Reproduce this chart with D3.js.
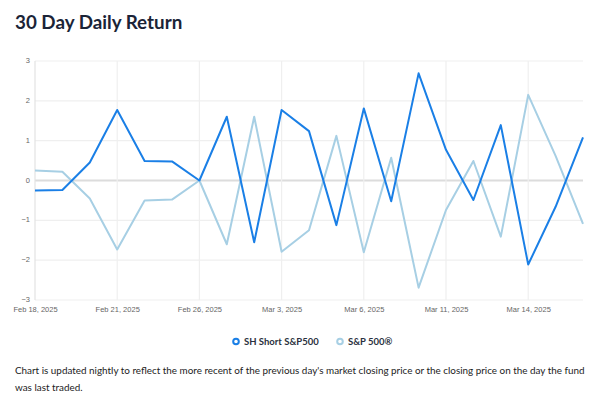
<!DOCTYPE html>
<html><head><meta charset="utf-8">
<script src="https://cdn.jsdelivr.net/npm/d3@7"></script>
<style>
body{margin:0;background:#fff;}
svg{display:block;}
</style></head>
<body>
<svg id="c" width="602" height="399"></svg>
<script>
const dates = ["Feb 18, 2025","Feb 19, 2025","Feb 20, 2025","Feb 21, 2025","Feb 24, 2025","Feb 25, 2025","Feb 26, 2025","Feb 27, 2025","Feb 28, 2025","Mar 3, 2025","Mar 4, 2025","Mar 5, 2025","Mar 6, 2025","Mar 7, 2025","Mar 10, 2025","Mar 11, 2025","Mar 12, 2025","Mar 13, 2025","Mar 14, 2025","Mar 17, 2025","Mar 18, 2025"];
const shShort = [-0.25,-0.24,0.45,1.77,0.49,0.48,0.0,1.60,-1.55,1.77,1.24,-1.12,1.81,-0.52,2.69,0.77,-0.49,1.39,-2.11,-0.66,1.08];
const sp500 = [0.25,0.22,-0.45,-1.73,-0.50,-0.48,0.0,-1.60,1.60,-1.79,-1.25,1.12,-1.80,0.57,-2.69,-0.74,0.49,-1.41,2.15,0.62,-1.09];
const yTicks = [-3,-2,-1,0,1,2,3];
const xTickLabels = ["Feb 18, 2025","Feb 21, 2025","Feb 26, 2025","Mar 3, 2025","Mar 6, 2025","Mar 11, 2025","Mar 14, 2025"];
const seriesNames = ["SH Short S&P500","S&P 500®"];
const colors = ["#1a7fe6","#a7cfe4"];

(function(){
const svg = d3.select("#c");
const pl = 35, pr = 583, pt = 61, pb = 300;
const x = d3.scalePoint().domain(dates).range([pl, pr]);
const y = d3.scaleLinear().domain([-3,3]).range([pb, pt]);

// title
svg.append("text").attr("x",15).attr("y",29).text("30 Day Daily Return")
  .attr("font-family","Lato, 'Open Sans', sans-serif").attr("font-weight","700")
  .attr("font-size",18.8).attr("fill","#1b2437");

// grid
const g = svg.append("g");
g.selectAll(".hg").data(yTicks).join("line")
  .attr("x1",pl).attr("x2",pr).attr("y1",d=>y(d)).attr("y2",d=>y(d))
  .attr("stroke",d=>d===0?"#dcdcdc":"#efefef").attr("stroke-width",d=>d===0?2:1.2);
g.selectAll(".vg").data(xTickLabels).join("line")
  .attr("x1",d=>x(d)).attr("x2",d=>x(d)).attr("y1",pt).attr("y2",pb)
  .attr("stroke",(d,i)=>i===0?"#e3e3e3":"#efefef").attr("stroke-width",1.2);

// y axis
const yAxis = d3.axisLeft(y).tickValues(yTicks).tickFormat(d3.format("d")).tickSize(0).tickPadding(5);
const ya = svg.append("g").attr("transform",`translate(${pl},0)`).call(yAxis);
ya.select(".domain").remove();
ya.selectAll("text").attr("font-family","Arial, 'Liberation Sans', sans-serif").attr("font-size",7.5).attr("fill","#666").attr("dy","0.2em");

// x axis
const xAxis = d3.axisBottom(x).tickValues(xTickLabels).tickSize(0).tickPadding(7);
const xa = svg.append("g").attr("transform",`translate(0,${pb})`).call(xAxis);
xa.select(".domain").remove();
xa.selectAll("text").attr("font-family","Arial, 'Liberation Sans', sans-serif").attr("font-size",7.5).attr("fill","#666");

// lines
const line = d3.line().x((d,i)=>x(dates[i])).y(d=>y(d));
[sp500, shShort].forEach((s,k)=>{
  const c = k===0?colors[1]:colors[0];
  svg.append("path").datum(s).attr("d",line).attr("fill","none")
    .attr("stroke",c).attr("stroke-width",2).attr("stroke-linejoin","round");
});

// legend
const leg = [{n:seriesNames[0],c:colors[0],x:236},{n:seriesNames[1],c:colors[1],x:340}];
leg.forEach(l=>{
  svg.append("circle").attr("cx",l.x).attr("cy",341.5).attr("r",2.8).attr("fill","#fff").attr("stroke",l.c).attr("stroke-width",2);
  svg.append("text").attr("x",l.x+8).attr("y",345).text(l.n)
    .attr("font-family","Lato, 'Open Sans', sans-serif").attr("font-weight","700").attr("font-size",9.5).attr("fill","#2a3140");
});

// footer
const ft = svg.append("text").attr("font-family","Lato, 'Open Sans', sans-serif").attr("font-size",9.9).attr("fill","#222");
ft.append("tspan").attr("x",15).attr("y",374).text("Chart is updated nightly to reflect the more recent of the previous day's market closing price or the closing price on the day the fund");
ft.append("tspan").attr("x",15).attr("y",391).text("was last traded.");
})();
</script>
</body></html>
